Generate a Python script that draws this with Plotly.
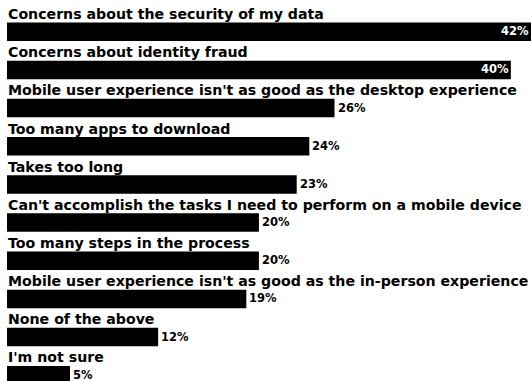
import plotly.graph_objects as go

# Survey responses: reasons for not using mobile services
reasons = [
    "Concerns about the security of my data",
    "Concerns about identity fraud",
    "Mobile user experience isn't as good as the desktop experience",
    "Too many apps to download",
    "Takes too long",
    "Can't accomplish the tasks I need to perform on a mobile device",
    "Too many steps in the process",
    "Mobile user experience isn't as good as the in-person experience",
    "None of the above",
    "I'm not sure",
]
shares = [42, 40, 26, 24, 23, 20, 20, 19, 12, 5]

rows = list(range(len(reasons)))
x_max = 41.6
bar_w = 0.485
row_px = 38.16
top_px = 31.8  # pixel centre of the first bar
height = 381
label_font = dict(family="DejaVu Sans", size=14.15, color="black", weight="bold")
value_font = dict(family="DejaVu Sans", size=11.5, weight="bold")

fig = go.Figure(
    go.Bar(
        x=shares,
        y=rows,
        orientation="h",
        width=bar_w,
        marker=dict(color="black", line=dict(width=0)),
        hoverinfo="skip",
    )
)

annotations = []
for i, (reason, share) in enumerate(zip(reasons, shares)):
    # category caption above each bar
    annotations.append(dict(
        x=0, y=i, xref="x", yref="y", text=reason, showarrow=False,
        xanchor="left", yanchor="bottom", yshift=bar_w / 2 * row_px - 0.5,
        borderpad=0, font=label_font,
    ))
    # value label: inside the bar for long bars, just past the end otherwise
    if share >= 30:
        annotations.append(dict(
            x=min(share, x_max), y=i, xref="x", yref="y", text=f"{share}%",
            showarrow=False, xanchor="right", yanchor="middle",
            xshift=-1, yshift=0.5,
            borderpad=0, font=dict(value_font, color="white"),
        ))
    else:
        annotations.append(dict(
            x=share, y=i, xref="x", yref="y", text=f"{share}%",
            showarrow=False, xanchor="left", yanchor="middle",
            xshift=2, yshift=0.5,
            borderpad=0, font=dict(value_font, color="black"),
        ))

fig.update_layout(
    width=531, height=height,
    margin=dict(l=7, r=0, t=0, b=0),
    paper_bgcolor="white", plot_bgcolor="white",
    showlegend=False,
    annotations=annotations,
    xaxis=dict(range=[0, x_max], visible=False, fixedrange=True),
    yaxis=dict(
        range=[(height - top_px) / row_px, -top_px / row_px],
        visible=False, fixedrange=True,
    ),
)

fig.write_html("out.html", config={"displayModeBar": False})
